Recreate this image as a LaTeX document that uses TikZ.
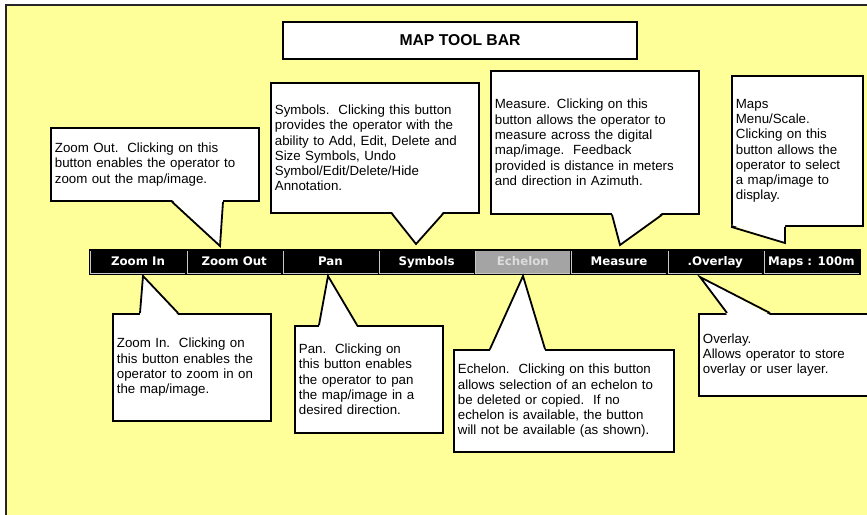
\documentclass[tikz,border=0pt]{standalone}
\usepackage{fontspec}
\setmainfont{Liberation Sans}
\newfontfamily\btnfont{DejaVu Sans}
\usetikzlibrary{calc}
\definecolor{panel}{HTML}{FFFF99}
\definecolor{btngray}{HTML}{A4A4A4}
\definecolor{btntext}{HTML}{DCDCDC}
\definecolor{btnline}{HTML}{C8C8C8}

\begin{document}
\begin{tikzpicture}[x=1pt,y=-1pt]
    \tikzstyle{every node}+=[inner sep=0pt]
    \tikzstyle{callout}=[draw=black, line width=1.8pt, fill=white, anchor=north west, inner xsep=4pt, align=left, font=\fontsize{13.3}{15.3}\selectfont]
    \tikzstyle{pointer}=[draw=black, line width=1.8pt]
    \tikzstyle{btn}=[fill=black, text=white, minimum width=94pt, minimum height=22pt, text height=8.7pt, text depth=2.3pt, font=\btnfont\bfseries\fontsize{11.8}{12}\selectfont]
    \tikzstyle{btnedge}=[draw=btnline, line width=1pt]
    \useasboundingbox (0,0) rectangle (867,514);
    \fill [white] (0,0) rectangle (867,514);
    \fill [panel] (6,5) rectangle (900,540);
    \draw [black!85, line width=2pt] (6,540) -- (6,5) -- (900,5);
    % title
    \node [draw=black, line width=1.8pt, fill=white, minimum width=354pt, minimum height=37pt, font=\bfseries\fontsize{15.7}{18}\selectfont] (title) at (460,40.5) {MAP TOOL BAR};
    % tool bar
    \fill [black] (89,249) rectangle (861,275);
    \node [btn] (zin) at (138,262) {Zoom In};
    \node [btn] (zout) at (234.2,262) {Zoom Out};
    \node [btn] (pan) at (330.4,262) {Pan};
    \node [btn] (sym) at (426.6,262) {Symbols};
    \node [btn, fill=btngray, text=btntext] (ech) at (522.8,262) {Echelon};
    \node [btn] (meas) at (619,262) {Measure};
    \node [btn] (ovl) at (715.2,262) {.Overlay};
    \node [btn] (maps) at (811.4,262) {Maps : 100m};
    \draw [btnedge] (zin.north west) -- (zin.south west) -- (zin.south east);
    \draw [btnedge] (zout.north west) -- (zout.south west) -- (zout.south east);
    \draw [btnedge] (pan.north west) -- (pan.south west) -- (pan.south east);
    \draw [btnedge] (sym.north west) -- (sym.south west) -- (sym.south east);
    \draw [btnedge] (ech.north west) -- (ech.south west) -- (ech.south east);
    \draw [btnedge] (meas.north west) -- (meas.south west) -- (meas.south east);
    \draw [btnedge] (ovl.north west) -- (ovl.south west) -- (ovl.south east);
    \draw [btnedge] (maps.north west) -- (maps.south west) -- (maps.south east);
    % tips of the callouts
    \coordinate (tzout) at (220,246);
    \coordinate (tsym) at (416,244);
    \coordinate (tmeas) at (620,245);
    \coordinate (tmaps) at (785,243);
    \coordinate (tzin) at (143,276);
    \coordinate (tpan) at (328,276);
    \coordinate (tech) at (523,276);
    \coordinate (tovl) at (700,277);
    % callouts above the bar
    \node [callout, minimum width=208pt, minimum height=73pt, text width=200pt] (czout) at (50,127) {Zoom Out.\ \ Clicking on this\\button enables the operator to\\zoom out the map/image.};
    \fill [white] ($(czout.south west)+(122,-2)$) -- (tzout) -- ($(czout.south west)+(173,-2)$) -- cycle;
    \draw [pointer] ($(czout.south west)+(122,0)$) -- (tzout) -- ($(czout.south west)+(173,0)$);
    \node [callout, minimum width=208pt, minimum height=130pt, text width=200pt] (csym) at (270,82) {Symbols.\ \ Clicking this button\\provides the operator with the\\ability to Add, Edit, Delete and\\Size Symbols, Undo\\Symbol/Edit/Delete/Hide\\Annotation.};
    \fill [white] ($(csym.south west)+(122,-2)$) -- (tsym) -- ($(csym.south west)+(173,-2)$) -- cycle;
    \draw [pointer] ($(csym.south west)+(122,0)$) -- (tsym) -- ($(csym.south west)+(173,0)$);
    \node [callout, minimum width=208pt, minimum height=143pt, text width=200pt] (cmeas) at (490,70) {Measure. Clicking on this\\button allows the operator to\\measure across the digital\\map/image.\ \ Feedback\\provided is distance in meters\\and direction in Azimuth.};
    \fill [white] ($(cmeas.south west)+(122,-2)$) -- (tmeas) -- ($(cmeas.south west)+(172,-2)$) -- cycle;
    \draw [pointer] ($(cmeas.south west)+(122,0)$) -- (tmeas) -- ($(cmeas.south west)+(172,0)$);
    \node [callout, minimum width=131pt, minimum height=150pt, text width=123pt] (cmaps) at (731,75) {Maps\\Menu/Scale.\\Clicking on this\\button allows the\\operator to select\\a map/image to\\display.};
    \fill [white] ($(cmaps.south west)+(0,-2)$) -- (tmaps) -- ($(cmaps.south west)+(54,-2)$) -- cycle;
    \draw [pointer] (cmaps.south west) -- (tmaps) -- ($(cmaps.south west)+(54,0)$);
    % callouts below the bar
    \node [callout, minimum width=158pt, minimum height=107pt, text width=150pt] (czin) at (112,313) {Zoom In.\ \ Clicking on\\this button enables the\\operator to zoom in on\\the map/image.};
    \fill [white] ($(czin.north west)+(28,2)$) -- (tzin) -- ($(czin.north west)+(66,2)$) -- cycle;
    \draw [pointer] ($(czin.north west)+(28,0)$) -- (tzin) -- ($(czin.north west)+(66,0)$);
    \node [callout, minimum width=148pt, minimum height=107pt, text width=140pt] (cpan) at (294,325) {Pan.\ \ Clicking on\\this button enables\\the operator to pan\\the map/image in a\\desired direction.};
    \fill [white] ($(cpan.north west)+(25,2)$) -- (tpan) -- ($(cpan.north west)+(63,2)$) -- cycle;
    \draw [pointer] ($(cpan.north west)+(25,0)$) -- (tpan) -- ($(cpan.north west)+(63,0)$);
    \node [callout, minimum width=220pt, minimum height=102pt, text width=212pt] (cech) at (453,349) {Echelon.\ \ Clicking on this button\\allows selection of an echelon to\\be deleted or copied.\ \ If no\\echelon is available, the button\\will not be available (as shown).};
    \fill [white] ($(cech.north west)+(37,2)$) -- (tech) -- ($(cech.north west)+(92,2)$) -- cycle;
    \draw [pointer] ($(cech.north west)+(37,0)$) -- (tech) -- ($(cech.north west)+(92,0)$);
    \node [callout, minimum width=177pt, minimum height=82pt, text width=169pt] (covl) at (698,313) {Overlay.\\Allows operator to store\\overlay or user layer.};
    \fill [white] ($(covl.north west)+(29,2)$) -- (tovl) -- ($(covl.north west)+(72,2)$) -- cycle;
    \draw [pointer] ($(covl.north west)+(29,0)$) -- (tovl) -- ($(covl.north west)+(72,0)$);
\end{tikzpicture}
\end{document}
